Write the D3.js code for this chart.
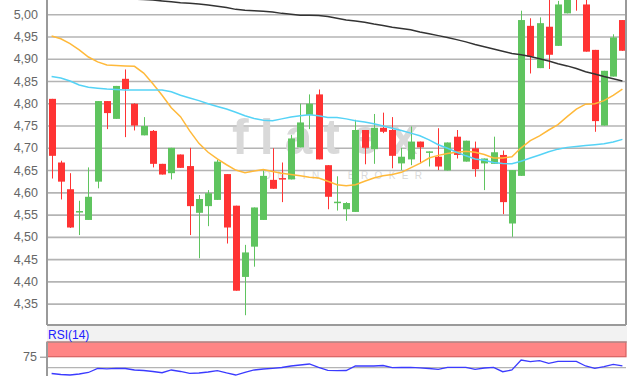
<!DOCTYPE html>
<html>
<head>
<meta charset="utf-8">
<script src="https://cdn.jsdelivr.net/npm/d3@7"></script>
<style>
  html, body { margin: 0; padding: 0; background: #fff; }
  svg { display: block; font-family: "Liberation Sans", Arial, sans-serif; }
</style>
</head>
<body>
<div id="chart"></div>
<script>
// daily candles (EUR)
const opens = [4.810, 4.667, 4.607, 4.555, 4.538, 4.624, 4.805, 4.765, 4.855, 4.799,
  4.728, 4.738, 4.664, 4.643, 4.685, 4.659, 4.554, 4.569, 4.583, 4.641,
  4.570, 4.410, 4.478, 4.538, 4.628, 4.632, 4.629, 4.701, 4.774, 4.820,
  4.661, 4.576, 4.562, 4.556, 4.740, 4.697, 4.745, 4.740, 4.665, 4.674,
  4.714, 4.690, 4.680, 4.649, 4.725, 4.669, 4.699, 4.665, 4.664, 4.684,
  4.530, 4.637, 4.974, 4.879, 4.972, 4.929, 5.002, 5.065, 5.022, 4.920,
  4.750, 4.860, 4.987];
const highs = [4.810, 4.671, 4.643, 4.581, 4.656, 4.805, 4.805, 4.839, 4.876, 4.800,
  4.769, 4.740, 4.664, 4.700, 4.685, 4.700, 4.594, 4.605, 4.673, 4.641,
  4.570, 4.482, 4.566, 4.649, 4.699, 4.667, 4.729, 4.799, 4.820, 4.831,
  4.661, 4.636, 4.578, 4.763, 4.740, 4.776, 4.779, 4.769, 4.700, 4.748,
  4.714, 4.692, 4.744, 4.712, 4.740, 4.716, 4.714, 4.676, 4.725, 4.694,
  4.650, 5.008, 4.991, 4.993, 5.040, 5.030, 5.060, 5.080, 5.045, 4.920,
  4.873, 4.955, 4.987];
const lows = [4.631, 4.584, 4.520, 4.504, 4.538, 4.609, 4.742, 4.765, 4.724, 4.739,
  4.728, 4.656, 4.640, 4.629, 4.655, 4.504, 4.452, 4.524, 4.583, 4.485,
  4.379, 4.324, 4.433, 4.538, 4.608, 4.578, 4.629, 4.701, 4.742, 4.674,
  4.562, 4.559, 4.536, 4.556, 4.663, 4.664, 4.733, 4.654, 4.650, 4.661,
  4.665, 4.658, 4.650, 4.649, 4.676, 4.669, 4.635, 4.605, 4.664, 4.551,
  4.500, 4.637, 4.867, 4.879, 4.877, 4.929, 5.002, 5.008, 4.916, 4.736,
  4.750, 4.860, 4.918];
const closes = [4.682, 4.624, 4.521, 4.558, 4.590, 4.805, 4.778, 4.839, 4.832, 4.750,
  4.749, 4.664, 4.640, 4.700, 4.655, 4.569, 4.585, 4.598, 4.669, 4.521,
  4.379, 4.465, 4.566, 4.637, 4.608, 4.629, 4.721, 4.757, 4.799, 4.674,
  4.590, 4.579, 4.576, 4.740, 4.700, 4.745, 4.736, 4.682, 4.680, 4.714,
  4.701, 4.692, 4.658, 4.712, 4.684, 4.716, 4.652, 4.676, 4.690, 4.578,
  4.650, 4.987, 4.905, 4.980, 4.909, 5.022, 5.045, 5.045, 4.916, 4.760,
  4.873, 4.948, 4.918];

// moving averages
const maLong = [5.048, 5.046, 5.044, 5.042, 5.040, 5.039, 5.037, 5.036, 5.035, 5.034,
  5.033, 5.032, 5.030, 5.028, 5.026, 5.025, 5.023, 5.021, 5.018, 5.015,
  5.011, 5.009, 5.008, 5.007, 5.005, 5.002, 5.000, 4.998, 4.998, 4.997,
  4.995, 4.991, 4.987, 4.985, 4.982, 4.978, 4.975, 4.971, 4.968, 4.965,
  4.960, 4.956, 4.952, 4.948, 4.943, 4.938, 4.932, 4.927, 4.922, 4.917,
  4.912, 4.909, 4.905, 4.900, 4.895, 4.889, 4.884, 4.878, 4.871, 4.866,
  4.860, 4.855, 4.850];
const maMid = [4.860, 4.857, 4.850, 4.841, 4.836, 4.834, 4.832, 4.831, 4.830, 4.830,
  4.830, 4.830, 4.830, 4.826, 4.818, 4.812, 4.806, 4.799, 4.793, 4.787,
  4.780, 4.772, 4.766, 4.762, 4.761, 4.765, 4.769, 4.772, 4.774, 4.772,
  4.768, 4.768, 4.765, 4.761, 4.758, 4.754, 4.749, 4.744, 4.739, 4.733,
  4.727, 4.718, 4.707, 4.699, 4.690, 4.682, 4.675, 4.672, 4.667, 4.665,
  4.664, 4.670, 4.677, 4.684, 4.691, 4.697, 4.701, 4.703, 4.705, 4.707,
  4.709, 4.713, 4.719];
const maShort = [4.951, 4.945, 4.934, 4.920, 4.904, 4.893, 4.886, 4.885, 4.884, 4.883,
  4.868, 4.844, 4.818, 4.790, 4.770, 4.738, 4.710, 4.690, 4.675, 4.662,
  4.650, 4.644, 4.648, 4.651, 4.647, 4.643, 4.640, 4.637, 4.634, 4.632,
  4.625, 4.617, 4.615, 4.617, 4.625, 4.632, 4.637, 4.640, 4.645, 4.655,
  4.665, 4.677, 4.683, 4.687, 4.690, 4.692, 4.690, 4.685, 4.677, 4.677,
  4.680, 4.700, 4.716, 4.727, 4.740, 4.752, 4.770, 4.787, 4.798, 4.799,
  4.806, 4.818, 4.832];

const rsi = [36.8, 34.5, 33.4, 35.7, 39.1, 48.6, 47.5, 48.6, 48.2, 44.8,
  43.6, 41.4, 38.6, 44.8, 41.4, 37.3, 38.0, 40.2, 43.2, 38.0,
  33.4, 39.1, 44.8, 47.0, 48.6, 50.5, 53.9, 56.1, 58.4, 50.9,
  44.1, 43.2, 43.6, 53.9, 53.9, 53.9, 55.0, 50.0, 50.5, 50.9,
  49.8, 48.2, 46.4, 50.9, 50.9, 50.9, 46.4, 49.3, 50.9, 40.9,
  44.8, 67.5, 63.6, 65.9, 60.0, 64.5, 64.5, 64.5, 53.9, 48.6,
  52.3, 57.7, 53.9];

const yTicks = [4.35, 4.40, 4.45, 4.50, 4.55, 4.60, 4.65, 4.70, 4.75, 4.80, 4.85, 4.90, 4.95, 5.00];
const rsiTicks = [75];
const rsiOverbought = 75;
const rsiMid = 50;

(function () {
  const W = 627, H = 376;
  const left = 47, right = 626;
  const mainBottom = 325;
  const rsiTop = 342;

  const de = d3.formatLocale({ decimal: ",", thousands: ".", grouping: [3], currency: ["", " €"] });
  const fmt = de.format(".2f");

  const svg = d3.select("#chart").append("svg")
    .attr("width", W)
    .attr("height", H);

  const idx = d3.range(closes.length);
  const x = d3.scalePoint().domain(idx).range([left, 627]).padding(0.5);
  const y = d3.scaleLinear().domain([4.302, 5.05]).range([mainBottom, -8]);
  const yR = d3.scaleLinear().domain([rsiMid, rsiOverbought]).range([367.7, 356.7]);

  // plot backgrounds
  svg.append("rect").attr("x", left).attr("y", 0).attr("width", right - left).attr("height", mainBottom)
    .attr("fill", "#fff");
  svg.append("rect").attr("x", left).attr("y", mainBottom + 1).attr("width", 627 - left).attr("height", rsiTop - mainBottom - 1)
    .attr("fill", "#f2f2f2");

  // grid + labels
  const yAxis = svg.append("g")
    .attr("transform", `translate(${left},0)`)
    .call(d3.axisLeft(y).tickValues(yTicks).tickFormat(fmt).tickSize(-(right - left)).tickPadding(9));
  yAxis.select(".domain").remove();
  yAxis.selectAll(".tick line").attr("stroke", "#b4b4b4").attr("stroke-width", 1.6);
  yAxis.selectAll(".tick text")
    .attr("fill", "#666")
    .attr("font-size", "12.5px")
    .attr("font-family", "'Liberation Sans', Arial, sans-serif");

  // watermark
  const wm = svg.append("g").attr("fill", "#d9d9d9");
  wm.append("text")
    .attr("x", 232).attr("y", 154)
    .attr("font-size", "50px").attr("font-weight", "bold")
    .attr("letter-spacing", "11px")
    .text("flatex");
  wm.append("text")
    .attr("x", 263).attr("y", 179)
    .attr("font-size", "10px")
    .attr("letter-spacing", "6.4px")
    .text("ONLINE BROKER");

  // candles
  const candles = idx.map((i) => ({ i, o: opens[i], h: highs[i], l: lows[i], c: closes[i] }));
  const up = "#5fc45f", down = "#ff3333";
  const cg = svg.append("g");
  cg.selectAll(".wick").data(candles).join("line")
    .attr("class", "wick")
    .attr("x1", (d) => Math.round(x(d.i)) + 0.5)
    .attr("x2", (d) => Math.round(x(d.i)) + 0.5)
    .attr("y1", (d) => y(d.h))
    .attr("y2", (d) => y(d.l))
    .attr("stroke", (d) => (d.c >= d.o ? up : down))
    .attr("stroke-width", 1);
  cg.selectAll(".body").data(candles).join("rect")
    .attr("class", "body")
    .attr("x", (d) => Math.round(x(d.i)) - 3)
    .attr("width", 7)
    .attr("y", (d) => y(Math.max(d.o, d.c)))
    .attr("height", (d) => Math.max(1.5, Math.abs(y(d.o) - y(d.c))))
    .attr("fill", (d) => (d.c >= d.o ? up : down));

  // moving averages
  const line = (arr) => d3.line().x((d, i) => x(i)).y((d) => y(d))(arr);
  const maG = svg.append("g").attr("fill", "none").attr("stroke-width", 1.5);
  maG.append("path").attr("d", line(maShort)).attr("stroke", "#ffb93a");
  maG.append("path").attr("d", line(maMid)).attr("stroke", "#55d3f6");
  maG.append("path").attr("d", line(maLong)).attr("stroke", "#333");

  // main frame
  const frame = svg.append("g").attr("stroke", "#9a9a9a").attr("stroke-width", 2).attr("fill", "none");
  frame.append("line").attr("x1", left).attr("x2", left).attr("y1", 0).attr("y2", mainBottom);
  frame.append("line").attr("x1", left).attr("x2", right).attr("y1", mainBottom).attr("y2", mainBottom);
  frame.append("line").attr("x1", right).attr("x2", right).attr("y1", 0).attr("y2", mainBottom);

  // RSI panel
  svg.append("rect").attr("x", left).attr("y", rsiTop).attr("width", 627 - left).attr("height", H - rsiTop)
    .attr("fill", "#fff");
  svg.append("rect")
    .attr("x", left).attr("width", 626 - left)
    .attr("y", rsiTop).attr("height", yR(rsiOverbought) - rsiTop)
    .attr("fill", "#ff8585")
    .attr("stroke", "#d86060")
    .attr("stroke-width", 1.2);
  svg.append("line")
    .attr("x1", left).attr("x2", 626)
    .attr("y1", yR(rsiMid)).attr("y2", yR(rsiMid))
    .attr("stroke", "#b4b4b4").attr("stroke-width", 1.2);

  const rAxis = svg.append("g")
    .attr("transform", `translate(${left},0)`)
    .call(d3.axisLeft(yR).tickValues(rsiTicks).tickSize(7).tickPadding(3));
  rAxis.select(".domain").remove();
  rAxis.selectAll(".tick line").attr("stroke", "#888");
  rAxis.selectAll(".tick text")
    .attr("fill", "#666")
    .attr("font-size", "12.5px")
    .attr("font-family", "'Liberation Sans', Arial, sans-serif");

  svg.append("path")
    .attr("d", d3.line().x((d, i) => x(i)).y((d) => yR(d))(rsi))
    .attr("fill", "none")
    .attr("stroke", "#3b3bff")
    .attr("stroke-width", 1.3);

  svg.append("line").attr("x1", left).attr("x2", left).attr("y1", rsiTop).attr("y2", H)
    .attr("stroke", "#9a9a9a").attr("stroke-width", 2);
  svg.append("line").attr("x1", left).attr("x2", 627).attr("y1", rsiTop).attr("y2", rsiTop)
    .attr("stroke", "#9a9a9a").attr("stroke-width", 1);

  svg.append("text")
    .attr("x", 48).attr("y", 339)
    .attr("fill", "#2020ff")
    .attr("font-size", "12px")
    .text("RSI(14)");
})();
</script>
</body>
</html>
